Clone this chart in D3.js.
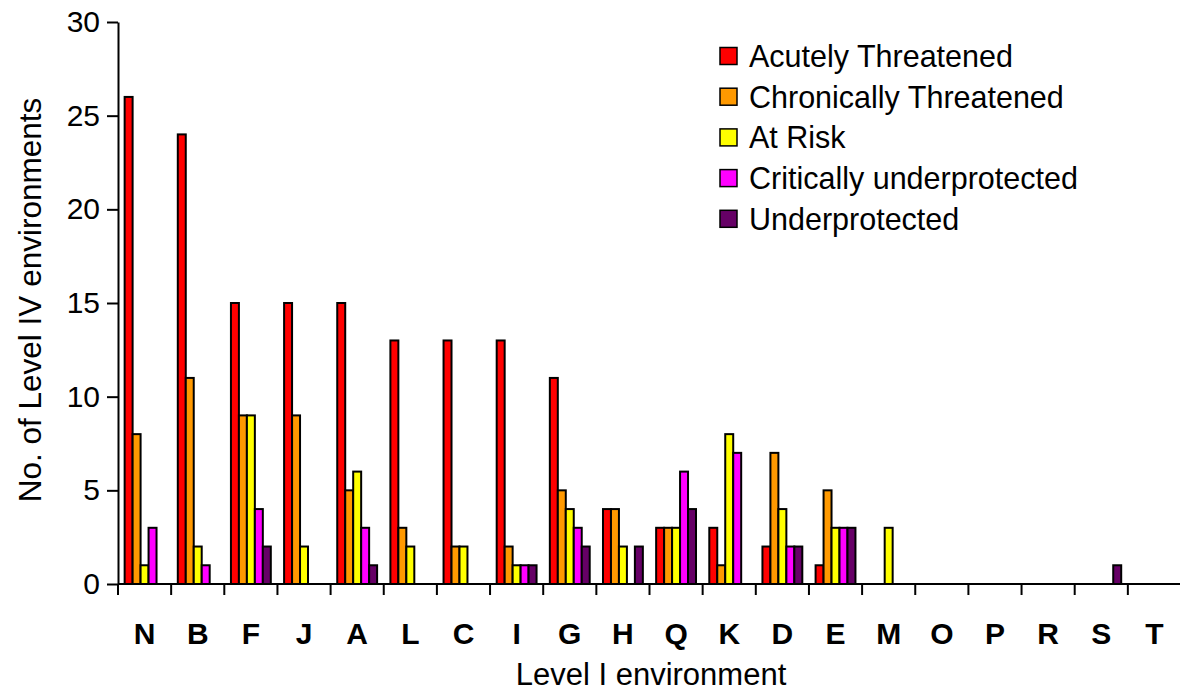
<!DOCTYPE html>
<html>
<head>
<meta charset="utf-8">
<script src="https://cdn.jsdelivr.net/npm/d3@7/dist/d3.min.js"></script>
<style>
  body { margin: 0; background: #fff; }
  svg text { font-family: Arial, "Liberation Sans", sans-serif; fill: #000; }
</style>
</head>
<body>
<svg id="chart" width="1180" height="691"></svg>
<script>
// level I environments along the x axis
const categories = ['N', 'B', 'F', 'J', 'A', 'L', 'C', 'I', 'G', 'H', 'Q', 'K', 'D', 'E', 'M', 'O', 'P', 'R', 'S', 'T'];
const seriesNames = ['Acutely Threatened', 'Chronically Threatened', 'At Risk', 'Critically underprotected', 'Underprotected'];
const seriesColors = ['#ff0000', '#ff9900', '#ffff00', '#ff00ff', '#660066'];
const acutely = [26, 24, 15, 15, 15, 13, 13, 13, 11, 4, 3, 3, 2, 1, 0, 0, 0, 0, 0, 0];
const chronically = [8, 11, 9, 9, 5, 3, 2, 2, 5, 4, 3, 1, 7, 5, 0, 0, 0, 0, 0, 0];
const atRisk = [1, 2, 9, 2, 6, 2, 2, 1, 4, 2, 3, 8, 4, 3, 3, 0, 0, 0, 0, 0];
const critUnder = [3, 1, 4, 0, 3, 0, 0, 1, 3, 0, 6, 7, 2, 3, 0, 0, 0, 0, 0, 0];
const underprot = [0, 0, 2, 0, 1, 0, 0, 1, 2, 2, 4, 0, 2, 3, 0, 0, 0, 0, 1, 0];
const yTicks = [0, 5, 10, 15, 20, 25, 30];

const seriesValues = [acutely, chronically, atRisk, critUnder, underprot];

const svg = d3.select('#chart');
const conf = { left: 118, right: 1181, top: 22, bottom: 584 };

const x0 = d3.scaleBand().domain(categories).range([conf.left, conf.right]).padding(0);
const bw = x0.bandwidth();
const x1 = d3.scaleBand().domain(d3.range(seriesNames.length)).range([bw * 0.125, bw * 0.875]).padding(0);
const y = d3.scaleLinear().domain([0, 30]).range([conf.bottom, conf.top]);

// bars
const groups = svg.append('g').classed('bars', true)
  .selectAll('g')
  .data(categories)
  .enter()
  .append('g')
  .attr('transform', function (d) { return 'translate(' + x0(d) + ',0)'; });

groups.selectAll('rect')
  .data(function (d, i) {
    return seriesValues.map(function (s, k) { return { k: k, v: s[i] }; }).filter(function (e) { return e.v > 0; });
  })
  .enter()
  .append('rect')
  .attr('x', function (d) { return x1(d.k); })
  .attr('width', x1.bandwidth())
  .attr('y', function (d) { return y(d.v); })
  .attr('height', function (d) { return y(0) - y(d.v); })
  .attr('fill', function (d) { return seriesColors[d.k]; })
  .attr('stroke', '#000')
  .attr('stroke-width', 2);

// y axis
const yAxis = svg.append('g')
  .attr('transform', 'translate(' + conf.left + ',0)')
  .call(d3.axisLeft(y).tickValues(yTicks).tickSize(11).tickSizeOuter(0).tickPadding(7));
yAxis.selectAll('text').attr('font-size', 30).style('font-family', 'Arial, "Liberation Sans", sans-serif');
yAxis.selectAll('line, path').attr('stroke', '#000').attr('stroke-width', 2);

// x axis: line, boundary ticks, bold labels
const xAxis = svg.append('g').classed('xaxis', true);
xAxis.append('line')
  .attr('x1', conf.left).attr('x2', 1180)
  .attr('y1', conf.bottom).attr('y2', conf.bottom)
  .attr('stroke', '#000').attr('stroke-width', 2);
xAxis.selectAll('.bt')
  .data(categories)
  .enter()
  .append('line')
  .attr('x1', function (d) { return x0(d); })
  .attr('x2', function (d) { return x0(d); })
  .attr('y1', conf.bottom).attr('y2', conf.bottom + 11)
  .attr('stroke', '#000').attr('stroke-width', 2);
xAxis.selectAll('text')
  .data(categories)
  .enter()
  .append('text')
  .text(function (d) { return d; })
  .attr('x', function (d) { return x0(d) + bw / 2; })
  .attr('y', 644)
  .attr('text-anchor', 'middle')
  .attr('font-size', 30)
  .attr('font-weight', 'bold');

// axis titles
svg.append('text')
  .text('Level I environment')
  .attr('x', 651).attr('y', 685)
  .attr('text-anchor', 'middle')
  .attr('font-size', 31);
svg.append('text')
  .text('No. of Level IV environments')
  .attr('transform', 'translate(41,300) rotate(-90)')
  .attr('text-anchor', 'middle')
  .attr('font-size', 31.5);

// legend
const legend = svg.append('g').attr('transform', 'translate(720,56)');
const item = legend.selectAll('g')
  .data(seriesNames)
  .enter()
  .append('g')
  .attr('transform', function (d, i) { return 'translate(0,' + i * 40.7 + ')'; });
item.append('rect')
  .attr('x', 0).attr('y', -8.5)
  .attr('width', 17).attr('height', 17)
  .attr('fill', function (d, i) { return seriesColors[i]; })
  .attr('stroke', '#000').attr('stroke-width', 1.5);
item.append('text')
  .text(function (d) { return d; })
  .attr('x', 29).attr('y', 11)
  .attr('font-size', 30.5);
</script>
</body>
</html>
